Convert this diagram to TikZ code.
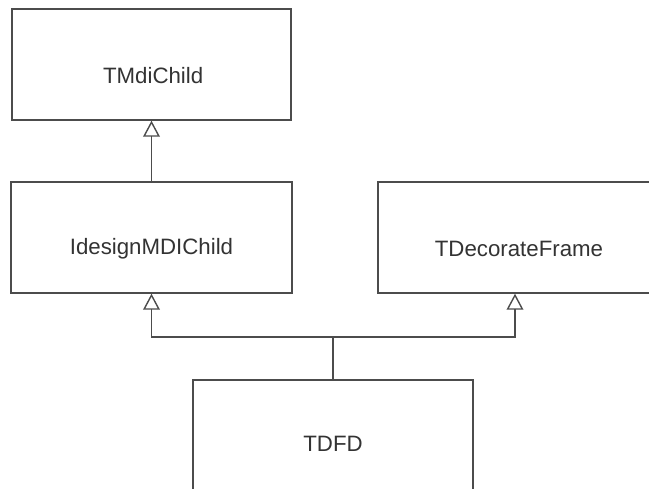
\documentclass[tikz,border=0pt]{standalone}
\usepackage{fontspec}
\setmainfont{Liberation Sans}
\usetikzlibrary{arrows.meta}
\tikzset{cls/.style={draw=black!70, line width=1.2pt, fill=white, inner sep=0pt},
  clsname/.style={font=\fontsize{19}{23}\selectfont, text=black!80, yshift=-0.33cm},
  inh/.style={draw=black!70, line width=1.2pt,
    -{Triangle[open, length=0.48cm, width=0.5cm]}}}

\begin{document}
\begin{tikzpicture}[x=0.03cm, y=-0.03cm]
  \useasboundingbox (0,0) rectangle (649,489);
  \clip (0,0) rectangle (649,489);

  \node[cls, minimum width=8.37cm, minimum height=3.33cm,
        label={[clsname, xshift=0.05cm]center:TMdiChild}] (tmdi) at (151.5, 64.5) {};
  \node[cls, minimum width=8.43cm, minimum height=3.33cm,
        label={[clsname]center:IdesignMDIChild}] (idesign) at (151.5,237.5) {};
  \node[cls, minimum width=8.22cm, minimum height=3.33cm,
        label={[clsname, xshift=0.12cm]center:TDecorateFrame}] (tdecor) at (515,237.5) {};
  \node[cls, minimum width=8.4cm, minimum height=3.6cm,
        label={[clsname, yshift=0.2cm]center:TDFD}] (tdfd) at (333,440) {};

  \coordinate (fork) at (333,337);

  \draw[inh] (idesign.north) -- (tmdi.south);
  \draw[inh] (tdfd.north) -- (fork) -| (idesign.south);
  \draw[inh] (fork) -| (tdecor.south);
\end{tikzpicture}
\end{document}
